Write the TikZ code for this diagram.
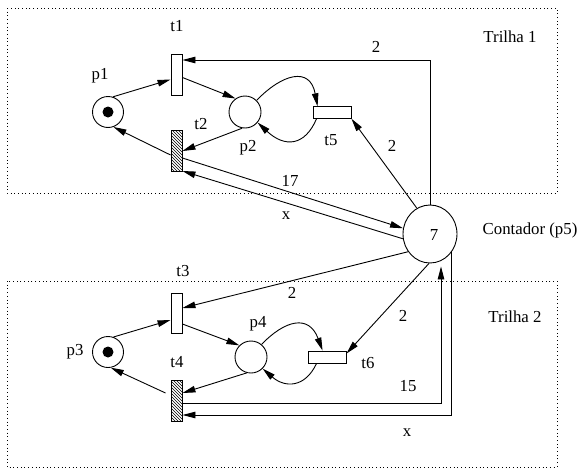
\documentclass[tikz,border=0pt]{standalone}
\usepackage{fontspec}
\setmainfont{Liberation Serif}
\usetikzlibrary{arrows.meta,patterns,shapes.geometric}

\begin{document}
\begin{tikzpicture}[x=1pt,y=-1pt,line width=0.9pt,
  >={Triangle[length=13pt,width=6.5pt]},
  every node/.style={font=\fontsize{16.8}{20}\selectfont},
  place/.style={circle,draw,minimum size=31pt,inner sep=0pt},
  vtrans/.style={rectangle,draw,minimum width=11pt,minimum height=41pt,inner sep=0pt},
  htrans/.style={rectangle,draw,minimum width=38pt,minimum height=11.5pt,inner sep=0pt},
  hatched/.style={pattern=north west lines},
  token/.style={circle,fill,minimum size=11pt,inner sep=0pt},
  lbl/.style={inner sep=0pt},
  region/.style={draw,line width=0.9pt,dash pattern=on 0.9pt off 2.8pt},
  arc/.style={->}]

\useasboundingbox (0,0) rectangle (580,471);

% the two tracks
\draw[region] (7,8) rectangle (557,193);
\draw[region] (7,281) rectangle (557,467);

% ---- track 1
\node[place] (p1) at (108,112) {};
\node[token] (p1tok) at (p1) {};
\node[vtrans] (t1) at (176.5,74.5) {};
\node[vtrans,hatched] (t2) at (176.5,151) {};
\node[place,minimum size=32pt] (p2) at (245,112) {};
\node[htrans] (t5) at (332,112.5) {};

% ---- counter
\node[ellipse,draw,minimum width=54pt,minimum height=58pt,inner sep=0pt] (p5) at (430,234) {};
\node[lbl] (p5val) at (434,235) {7};

% ---- track 2
\node[place] (p3) at (108,352) {};
\node[token] (p3tok) at (p3) {};
\node[vtrans,minimum height=40pt] (t3) at (176.5,313) {};
\node[vtrans,hatched] (t4) at (176.5,400.5) {};
\node[place,minimum size=32pt] (p4) at (251,357) {};
\node[htrans,minimum height=12pt] (t6) at (327,357) {};

% ---- labels
\node[lbl] (lt1) at (177,26) {t1};
\node[lbl] (lp1) at (100,76) {p1};
\node[lbl] (lt2) at (201,124) {t2};
\node[lbl] (lp2) at (248,148) {p2};
\node[lbl] (lt5) at (331,140) {t5};
\node[lbl] (ltr1) at (510,37) {Trilha 1};
\node[lbl] (lcont) at (530,230) {Contador (p5)};
\node[lbl] (lt3) at (183,271) {t3};
\node[lbl] (lp3) at (75,352) {p3};
\node[lbl] (lp4) at (258,324) {p4};
\node[lbl] (lt4) at (177,362) {t4};
\node[lbl] (lt6) at (368,363) {t6};
\node[lbl] (ltr2) at (515,317) {Trilha 2};

\node[lbl] (w1) at (376,47) {2};
\node[lbl] (w2) at (392,146) {2};
\node[lbl] (w17) at (290,181) {17};
\node[lbl] (wx1) at (286,216) {x};
\node[lbl] (w3) at (292,293) {2};
\node[lbl] (w4) at (403,316) {2};
\node[lbl] (w15) at (408,386) {15};
\node[lbl] (wx2) at (407,433) {x};

% ---- arcs of track 1
\draw[arc] (p1.72) -- ([yshift=-5pt]t1.west);
\draw[arc] ([yshift=-3pt]t1.east) -- (p2.125);
\draw[arc] (p2.260) -- (t2.east);
\draw[arc] ([yshift=-4pt]t2.west) -- (p1.-70);
\draw[arc] (p2.45) .. controls (282,74) and (310,66) .. ([xshift=5pt]t5.north west);
\draw[arc] ([xshift=4pt]t5.south west) .. controls (305,146) and (285,148) .. (p2.-40);

% ---- arcs to and from the counter
\draw[arc] (p5.117) -- (t5.south east);
\draw[arc] (p5.north) |- ([yshift=14.5pt]t1.east);
\draw[arc] ([yshift=-7pt]t2.east) -- (p5.168);
\draw[arc] (p5.190) -- ([yshift=-20pt]t2.east);
\draw[arc] (p5.219) -- ([yshift=5pt]t3.east);
\draw[arc] (p5.268) -- ([yshift=-3pt]t6.north east);
\coordinate (in15) at ([shift={(11pt,-3pt)}]p5.south);
\draw[arc] ([yshift=-2.5pt]t4.east) -| (in15);
\draw[arc] (p5.-39) |- ([yshift=-14.5pt]t4.east);

% ---- arcs of track 2
\draw[arc] (p3.70) -- ([yshift=-7pt]t3.west);
\draw[arc] ([yshift=-11pt]t3.east) -- (p4.135);
\draw[arc] (p4.255) -- ([yshift=7.5pt]t4.east);
\draw[arc] ([shift={(-5pt,7.5pt)}]t4.west) -- (p3.-80);
\draw[arc] (p4.50) .. controls (285,320) and (309,314) .. ([xshift=15pt]t6.north west);
\draw[arc] ([xshift=9pt]t6.south west) .. controls (305,388) and (285,388) .. (p4.-45);

\end{tikzpicture}
\end{document}
